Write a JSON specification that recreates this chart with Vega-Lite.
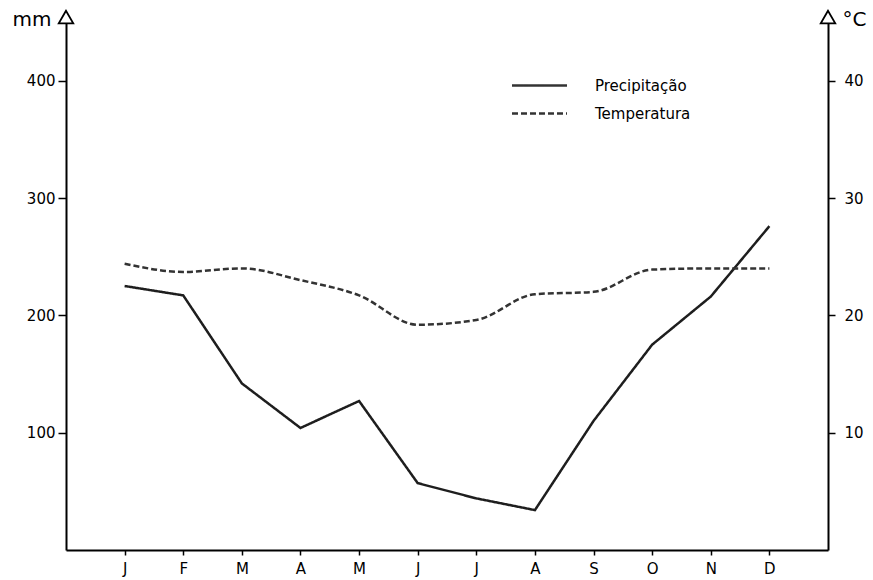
{
  "$schema": "https://vega.github.io/schema/vega-lite/v6.json",
  "width": 762,
  "height": 528,
  "autosize": {"type": "none"},
  "padding": {"left": 66, "top": 22, "right": 45, "bottom": 30},
  "background": "white",
  "config": {
    "view": {"stroke": null},
    "font": "DejaVu Sans",
    "axis": {
      "grid": false,
      "domainColor": "black",
      "domainWidth": 2,
      "tickColor": "black",
      "tickWidth": 1.5,
      "labelColor": "black",
      "labelFont": "DejaVu Sans",
      "titleColor": "black",
      "titleFont": "DejaVu Sans",
      "titleFontWeight": "normal"
    }
  },
  "data": {
    "values": [
      {"m": 1, "mes": "J", "precip": 225, "temp": 24.4},
      {"m": 2, "mes": "F", "precip": 217, "temp": 23.7},
      {"m": 3, "mes": "M", "precip": 142, "temp": 24.0},
      {"m": 4, "mes": "A", "precip": 104, "temp": 23.0},
      {"m": 5, "mes": "M", "precip": 127, "temp": 21.7},
      {"m": 6, "mes": "J", "precip": 57, "temp": 19.2},
      {"m": 7, "mes": "J", "precip": 44, "temp": 19.6},
      {"m": 8, "mes": "A", "precip": 34, "temp": 21.8},
      {"m": 9, "mes": "S", "precip": 110, "temp": 22.0},
      {"m": 10, "mes": "O", "precip": 175, "temp": 23.9},
      {"m": 11, "mes": "N", "precip": 216, "temp": 24.0},
      {"m": 12, "mes": "D", "precip": 276, "temp": 24.0}
    ]
  },
  "layer": [
    {
      "mark": {"type": "line", "color": "#1e1e1e", "strokeWidth": 2.5},
      "encoding": {
        "x": {
          "field": "m",
          "type": "quantitative",
          "scale": {"domain": [0, 13]},
          "axis": {
            "values": [1, 2, 3, 4, 5, 6, 7, 8, 9, 10, 11, 12],
            "labelExpr": "['J','F','M','A','M','J','J','A','S','O','N','D'][datum.value-1]",
            "title": null,
            "tickSize": 5,
            "labelFontSize": 15,
            "labelPadding": 6
          }
        },
        "y": {
          "field": "precip",
          "type": "quantitative",
          "scale": {"domain": [0, 450]},
          "axis": {
            "orient": "left",
            "values": [100, 200, 300, 400],
            "tickSize": 8,
            "labelPadding": 3,
            "labelFontSize": 15,
            "title": "mm",
            "titleAngle": 0,
            "titleAlign": "left",
            "titleBaseline": "middle",
            "titleX": -54,
            "titleY": -3,
            "titleFontSize": 20
          }
        },
        "strokeDash": {
          "datum": "Precipitação",
          "type": "nominal",
          "scale": {"domain": ["Precipitação", "Temperatura"], "range": [[1, 0], [6, 3]]},
          "legend": {
            "orient": "none",
            "legendX": 466,
            "legendY": 56,
            "title": null,
            "symbolType": "M-5,0H5",
            "symbolSize": 121,
            "symbolStrokeWidth": 2.5,
            "symbolStrokeColor": "#222",
            "symbolFillColor": "transparent",
            "labelFontSize": 15,
            "labelColor": "black",
            "labelOffset": 48,
            "rowPadding": 12
          }
        }
      }
    },
    {
      "mark": {"type": "line", "interpolate": "monotone", "color": "#333", "strokeWidth": 2.5},
      "encoding": {
        "x": {"field": "m", "type": "quantitative"},
        "y": {
          "field": "temp",
          "type": "quantitative",
          "scale": {"domain": [0, 45]},
          "axis": {
            "orient": "right",
            "values": [10, 20, 30, 40],
            "tickSize": 7,
            "labelPadding": 9,
            "labelFontSize": 15,
            "title": "°C",
            "titleAngle": 0,
            "titleAlign": "left",
            "titleBaseline": "middle",
            "titleX": 14,
            "titleY": -3,
            "titleFontSize": 20
          }
        },
        "strokeDash": {"datum": "Temperatura", "type": "nominal"}
      }
    },
    {
      "data": {"values": [{"m": 0, "top": 450}, {"m": 13, "top": 450}]},
      "mark": {"type": "point", "shape": "triangle-up", "filled": false, "stroke": "black", "fill": "white", "strokeWidth": 1.8, "size": 210, "yOffset": -5, "opacity": 1},
      "encoding": {
        "x": {"field": "m", "type": "quantitative"},
        "y": {"field": "top", "type": "quantitative", "scale": {"domain": [0, 450]}, "axis": null}
      }
    }
  ],
  "resolve": {"scale": {"y": "independent"}}
}
